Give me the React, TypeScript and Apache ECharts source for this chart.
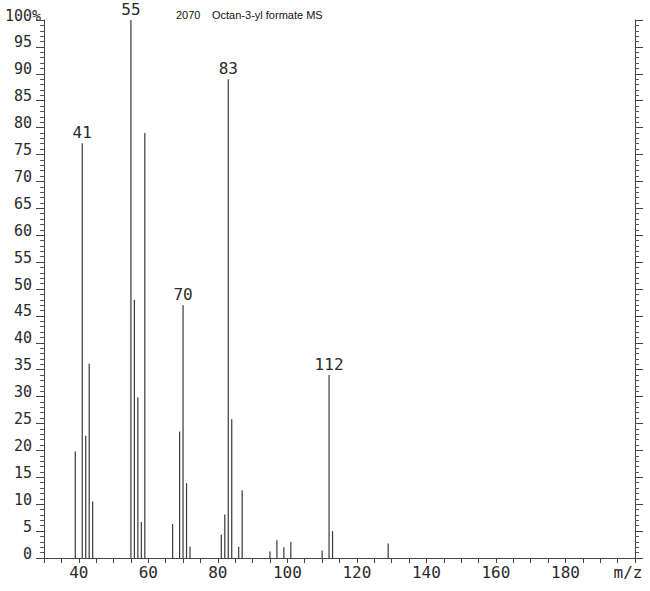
import React, { useEffect, useRef } from 'react';
import * as echarts from 'echarts';

const mzValues = [39, 41, 42, 43, 44, 55, 56, 57, 58, 59, 67, 69, 70, 71, 72, 81, 82, 83, 84, 86, 87, 95, 97, 99, 101, 110, 112, 113, 129];
const intensities = [19.8, 77.1, 22.7, 36.1, 10.5, 100, 48.0, 29.9, 6.7, 79.0, 6.3, 23.5, 47.0, 13.9, 2.1, 4.3, 8.1, 89.0, 25.8, 2.1, 12.6, 1.2, 3.3, 2.0, 3.0, 1.4, 34.0, 5.0, 2.7];
const labelledPeaks = [41, 55, 70, 83, 112];
const xTickLabels = [40, 60, 80, 100, 120, 140, 160, 180];
const compoundId = '2070';
const compoundName = 'Octan-3-yl formate MS';

const MONO = "'DejaVu Sans Mono', monospace";
const INK = '#2a2a2a';

export default function App() {
  const ref = useRef<HTMLDivElement>(null);
  useEffect(() => {
    if (!ref.current) return;
    const chart = echarts.init(ref.current, undefined, { renderer: 'svg' });
    const data = mzValues.map((m, i) => {
      const item: any = { value: [m, intensities[i]] };
      if (labelledPeaks.includes(m)) {
        item.label = { show: true };
      }
      return item;
    });
    const yCommon = {
      type: 'value',
      min: 0,
      max: 100,
      interval: 5,
      splitLine: { show: false },
      axisLine: { show: true, lineStyle: { color: '#444', width: 1 } },
      axisTick: { show: true, inside: false, length: 8, lineStyle: { color: '#444' } },
      minorTick: { show: true, splitNumber: 5, length: 4, lineStyle: { color: '#555' } },
      minorSplitLine: { show: false },
    };
    chart.setOption({
      animation: false,
      backgroundColor: '#fff',
      grid: { left: 44, right: 15, top: 20, bottom: 33, containLabel: false },
      xAxis: {
        type: 'value',
        min: 30,
        max: 200,
        interval: 5,
        splitLine: { show: false },
        axisLine: { show: true, onZero: false, lineStyle: { color: '#444', width: 1 } },
        axisTick: { show: true, length: 5, interval: 0, lineStyle: { color: '#444' } },
        axisLabel: {
          interval: 0,
          showMaxLabel: true,
          showMinLabel: true,
          margin: 6,
          color: INK,
          fontFamily: MONO,
          fontSize: 16,
          formatter: (v: number) => {
            if (v === 200) return '{mz|m/z}';
            return xTickLabels.includes(v) ? String(v) : '';
          },
          rich: {
            mz: { fontFamily: MONO, fontSize: 16, color: INK, padding: [0, 14, 0, 0] },
          },
        },
      },
      yAxis: [
        {
          ...yCommon,
          position: 'left',
          axisLabel: {
            show: true,
            margin: 12,
            color: INK,
            fontFamily: MONO,
            fontSize: 15,
            verticalAlign: 'bottom',
            lineHeight: 9,
            formatter: (v: number) => String(v),
          },
        },
        {
          ...yCommon,
          position: 'right',
          axisLabel: { show: false },
        },
      ],
      graphic: [
        {
          type: 'text',
          left: 32,
          top: 8,
          style: { text: '%', fontFamily: MONO, fontSize: 15, fill: INK },
        },
        {
          type: 'text',
          left: 176,
          top: 9,
          style: { text: compoundId, fontFamily: "'Liberation Sans', Arial, sans-serif", fontSize: 11, fill: '#111' },
        },
        {
          type: 'text',
          left: 212,
          top: 9,
          style: { text: compoundName, fontFamily: "'Liberation Sans', Arial, sans-serif", fontSize: 11, fill: '#111' },
        },
      ],
      series: [
        {
          type: 'bar',
          xAxisIndex: 0,
          yAxisIndex: 0,
          barWidth: 1.2,
          itemStyle: { color: '#3a3a3a' },
          label: {
            show: false,
            position: 'top',
            distance: 3,
            fontFamily: MONO,
            fontSize: 16,
            color: INK,
            formatter: (p: any) => String(p.value[0]),
          },
          data,
        },
      ],
    });
    return () => chart.dispose();
  }, []);
  return <div ref={ref} style={{ position: 'absolute', left: 0, top: 0, width: 650, height: 591 }} />;
}
